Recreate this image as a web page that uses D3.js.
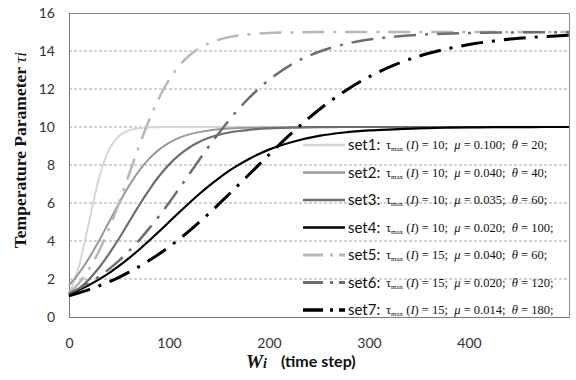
<!DOCTYPE html>
<html>
<head>
<meta charset="utf-8">
<script src="https://cdn.jsdelivr.net/npm/d3@7"></script>
<style>
  body { margin: 0; background: #fff; }
  svg { display: block; }
  text { white-space: pre; }
</style>
</head>
<body>
<div id="chart"></div>
<script>
// time steps (x) shared by all series
const W = [0, 10, 20, 30, 40, 50, 60, 70, 80, 90, 100, 110, 120, 130, 140, 150, 160, 170, 180, 190, 200,
           225, 250, 275, 300, 325, 350, 375, 400, 425, 450, 475, 500];

// temperature parameter
const set1 = [1.19, 2.69, 5.00, 7.31, 8.81, 9.53, 9.82, 9.93, 9.98, 9.99, 10, 10, 10, 10, 10, 10, 10, 10, 10, 10, 10,
              10, 10, 10, 10, 10, 10, 10, 10, 10, 10, 10, 10];
const set2 = [1.68, 2.31, 3.10, 4.01, 5.00, 5.99, 6.90, 7.69, 8.32, 8.81, 9.17, 9.43, 9.61, 9.73, 9.82, 9.88, 9.92, 9.95, 9.96, 9.97, 9.98,
              9.99, 10, 10, 10, 10, 10, 10, 10, 10, 10, 10, 10];
const set3 = [1.09, 1.48, 1.98, 2.59, 3.32, 4.13, 5.00, 5.87, 6.68, 7.41, 8.02, 8.52, 8.91, 9.21, 9.43, 9.59, 9.71, 9.79, 9.85, 9.90, 9.93,
              9.97, 9.99, 10, 10, 10, 10, 10, 10, 10, 10, 10, 10];
const set4 = [1.19, 1.42, 1.68, 1.98, 2.31, 2.69, 3.10, 3.54, 4.01, 4.50, 5.00, 5.50, 5.99, 6.46, 6.90, 7.31, 7.69, 8.02, 8.32, 8.58, 8.81,
              9.24, 9.53, 9.71, 9.82, 9.88, 9.93, 9.96, 9.98, 9.99, 9.99, 10, 10];
const set5 = [1.25, 1.79, 2.52, 3.47, 4.65, 6.01, 7.50, 8.99, 10.35, 11.53, 12.48, 13.21, 13.75, 14.14, 14.41, 14.60, 14.73, 14.82, 14.88, 14.92, 14.95,
              14.98, 15, 15, 15, 15, 15, 15, 15, 15, 15, 15, 15];
const set6 = [1.25, 1.50, 1.79, 2.13, 2.52, 2.97, 3.47, 4.03, 4.65, 5.31, 6.01, 6.75, 7.50, 8.25, 8.99, 9.69, 10.35, 10.97, 11.53, 12.03, 12.48,
              13.37, 13.96, 14.35, 14.60, 14.75, 14.85, 14.91, 14.95, 14.97, 14.98, 14.99, 14.99];
const set7 = [1.12, 1.27, 1.44, 1.64, 1.85, 2.09, 2.36, 2.65, 2.97, 3.31, 3.69, 4.09, 4.52, 4.98, 5.45, 5.95, 6.46, 6.98, 7.50, 8.02, 8.54,
              9.79, 10.91, 11.86, 12.64, 13.26, 13.73, 14.08, 14.34, 14.53, 14.67, 14.76, 14.83];

const SERIES = [set1, set2, set3, set4, set5, set6, set7];
const NAMES = ["set1", "set2", "set3", "set4", "set5", "set6", "set7"];
const TAU_MAX = ["10", "10", "10", "10", "15", "15", "15"];
const MU = ["0.100", "0.040", "0.035", "0.020", "0.040", "0.020", "0.014"];
const THETA = ["20", "40", "60", "100", "60", "120", "180"];

const X_TICKS = [0, 100, 200, 300, 400];
const Y_TICKS = [0, 2, 4, 6, 8, 10, 12, 14, 16];

// line looks
const colors = ["#d6d6d6", "#9a9a9a", "#6e6e6e", "#000000", "#b8b8b8", "#6e6e6e", "#000000"];
const widths = [2, 2, 2.2, 2.2, 2.5, 2.5, 3];
const dashed = [false, false, false, false, true, true, true];

const width = 576, height = 380;
const margin = { top: 13, right: 7, bottom: 63, left: 69 };

const svg = d3.select("#chart").append("svg")
    .attr("width", width)
    .attr("height", height);

const x = d3.scaleLinear().domain([0, 500]).range([margin.left, width - margin.right]);
const y = d3.scaleLinear().domain([0, 16]).range([height - margin.bottom, margin.top]);

// gridlines
svg.append("g")
    .selectAll("line")
    .data(Y_TICKS.filter(d => d > 0 && d < 16))
    .enter().append("line")
    .attr("x1", x(0)).attr("x2", x(500))
    .attr("y1", d => y(d)).attr("y2", d => y(d))
    .attr("stroke", "#a6a6a6")
    .attr("stroke-width", 1)
    .attr("stroke-dasharray", "3,2");

// plot border
svg.append("rect")
    .attr("x", x(0) + 0.5).attr("y", y(16) + 0.5)
    .attr("width", x(500) - x(0)).attr("height", y(0) - y(16))
    .attr("fill", "none")
    .attr("stroke", "#8a8a8a");

// axes (labels only, no tick marks)
const xAxis = svg.append("g")
    .attr("transform", `translate(0,${y(0)})`)
    .call(d3.axisBottom(x).tickValues(X_TICKS).tickSize(0).tickPadding(21));
const yAxis = svg.append("g")
    .attr("transform", `translate(${x(0)},0)`)
    .call(d3.axisLeft(y).tickValues(Y_TICKS).tickSize(0).tickPadding(14));
[xAxis, yAxis].forEach(g => {
    g.select(".domain").attr("stroke", "#7a7a7a");
    g.selectAll("text")
        .attr("font-family", "Lato, 'Open Sans', sans-serif")
        .attr("font-size", 14)
        .attr("fill", "#333");
});

// curves
const line = d3.line()
    .x((d, i) => x(W[i]))
    .y(d => y(d))
    .curve(d3.curveMonotoneX);

SERIES.forEach((s, i) => {
    svg.append("path")
        .datum(s)
        .attr("fill", "none")
        .attr("stroke", colors[i])
        .attr("stroke-width", widths[i])
        .attr("stroke-dasharray", dashed[i] ? "22,9,3,9" : null)
        .attr("d", line);
});

// legend
const legend = svg.append("g")
    .selectAll("g")
    .data(NAMES)
    .enter().append("g")
    .attr("transform", (d, i) => `translate(0,${145 + i * 27.5})`);

legend.append("line")
    .attr("x1", 303).attr("x2", 345)
    .attr("y1", 0).attr("y2", 0)
    .attr("stroke", (d, i) => colors[i])
    .attr("stroke-width", (d, i) => widths[i] + 0.5)
    .attr("stroke-dasharray", (d, i) => dashed[i] ? "20,7,3,6" : null);

legend.append("text")
    .attr("x", 348).attr("y", 5)
    .attr("font-family", "Lato, 'Open Sans', sans-serif")
    .attr("font-size", 15)
    .attr("fill", "#111")
    .text(d => d + ":");

const formula = legend.append("text")
    .attr("x", 386).attr("y", 4)
    .attr("font-family", "'Liberation Serif', 'DejaVu Serif', serif")
    .attr("font-size", 12.5)
    .attr("fill", "#111");
formula.append("tspan").text("τ");
formula.append("tspan").attr("font-size", 7).attr("dy", 2).text("max");
formula.append("tspan").attr("dy", -2).text(" (");
formula.append("tspan").attr("font-style", "italic").text("I");
formula.append("tspan").text((d, i) => ") = " + TAU_MAX[i] + ";  ");
formula.append("tspan").attr("font-style", "italic").text("μ");
formula.append("tspan").text((d, i) => " = " + MU[i] + ";  ");
formula.append("tspan").attr("font-style", "italic").text("θ");
formula.append("tspan").text((d, i) => " = " + THETA[i] + ";");

// y axis title
const yTitle = svg.append("text")
    .attr("transform", "translate(26,150) rotate(-90)")
    .attr("text-anchor", "middle")
    .attr("font-family", "'Liberation Serif', 'Times New Roman', serif")
    .attr("font-weight", "bold")
    .attr("font-size", 17.5)
    .attr("fill", "#111");
yTitle.append("tspan").text("Temperature Parameter ");
yTitle.append("tspan").attr("font-style", "italic").attr("font-weight", "normal").text("τi");

// x axis title
const xTitle = svg.append("text")
    .attr("x", 246).attr("y", 368)
    .attr("font-family", "'Liberation Serif', 'Times New Roman', serif")
    .attr("font-weight", "bold")
    .attr("font-style", "italic")
    .attr("font-size", 19)
    .attr("fill", "#111");
xTitle.append("tspan").text("W");
xTitle.append("tspan").attr("font-size", 14).text("i");

svg.append("text")
    .attr("x", 281).attr("y", 367)
    .attr("font-family", "Lato, 'Open Sans', sans-serif")
    .attr("font-weight", "bold")
    .attr("font-size", 16)
    .attr("fill", "#111")
    .text("(time step)");
</script>
</body>
</html>
